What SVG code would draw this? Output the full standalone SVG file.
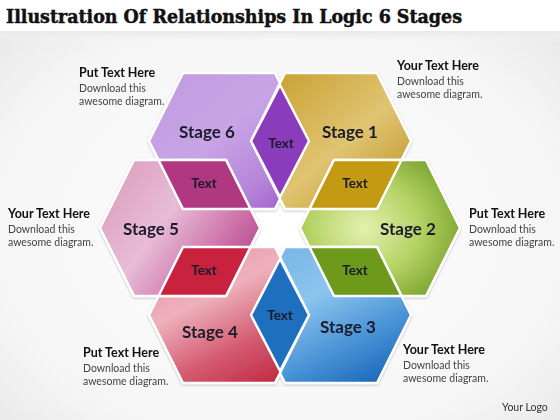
<svg xmlns="http://www.w3.org/2000/svg" width="560" height="420" viewBox="0 0 560 420">
<defs>
<style>
.title{font-family:"DejaVu Serif","Liberation Serif",serif;font-weight:bold;font-size:19px;fill:#111;stroke:#111;stroke-width:0.5}
.stage{font-family:Lato,"Liberation Sans",sans-serif;font-weight:bold;font-size:17px;fill:#1b1b2b;text-anchor:middle}
.ov{font-family:Lato,"Liberation Sans",sans-serif;font-weight:bold;font-size:13.5px;fill:#1b1b2b;text-anchor:middle}
.hd{font-family:Lato,"Liberation Sans",sans-serif;font-weight:bold;font-size:12.5px;fill:#111}
.bd{font-family:Lato,"Liberation Sans",sans-serif;font-size:10.5px;fill:#444}
.hex{stroke:#ffffff;stroke-width:2.5;stroke-linejoin:round}
</style>
<radialGradient id="bg" cx="0.5" cy="0.55" r="0.75">
<stop offset="0" stop-color="#ffffff"/><stop offset="0.7" stop-color="#f5f5f5"/><stop offset="1" stop-color="#e4e4e4"/>
</radialGradient>
<linearGradient id="band" x1="0" y1="0" x2="0" y2="1">
<stop offset="0" stop-color="#e8e8e8"/><stop offset="1" stop-color="#f6f6f6" stop-opacity="0"/>
</linearGradient>
<linearGradient id="g6" x1="0" y1="0" x2="1" y2="1">
<stop offset="0" stop-color="#c09ae0"/><stop offset="0.45" stop-color="#c8a4e6"/><stop offset="0.75" stop-color="#b584d8"/><stop offset="1" stop-color="#9652c4"/>
</linearGradient>
<linearGradient id="g1" x1="0" y1="0" x2="1" y2="1">
<stop offset="0" stop-color="#c69c28"/><stop offset="0.55" stop-color="#e0c472"/><stop offset="1" stop-color="#b88f18"/>
</linearGradient>
<radialGradient id="g2" cx="0.4" cy="0.5" r="0.7">
<stop offset="0" stop-color="#e4f0b0"/><stop offset="0.5" stop-color="#b4d264"/><stop offset="1" stop-color="#6e9a22"/>
</radialGradient>
<linearGradient id="g3" x1="0.2" y1="0" x2="0.8" y2="1">
<stop offset="0" stop-color="#7ab6e6"/><stop offset="0.35" stop-color="#8cc4ee"/><stop offset="0.7" stop-color="#4a94d6"/><stop offset="1" stop-color="#1a68ba"/>
</linearGradient>
<linearGradient id="g4" x1="0.2" y1="0" x2="0.8" y2="1">
<stop offset="0" stop-color="#e898a8"/><stop offset="0.35" stop-color="#eeb0bc"/><stop offset="0.7" stop-color="#d45a70"/><stop offset="1" stop-color="#c02a42"/>
</linearGradient>
<linearGradient id="g5" x1="0" y1="0.2" x2="1" y2="0.8">
<stop offset="0" stop-color="#dc9ec0"/><stop offset="0.4" stop-color="#e8bcd6"/><stop offset="0.75" stop-color="#cc70a8"/><stop offset="1" stop-color="#b04088"/>
</linearGradient>
<polygon id="hx" points="-80,0 -46,-68 46,-68 80,0 46,68 -46,68"/>
<filter id="sh" x="-10%" y="-10%" width="120%" height="120%">
<feDropShadow dx="0" dy="1" stdDeviation="1.2" flood-color="#000" flood-opacity="0.25"/>
</filter>
</defs>
<rect width="560" height="420" fill="url(#bg)"/>
<rect width="560" height="31" fill="#ffffff"/>
<rect y="31" width="560" height="12" fill="url(#band)"/>
<text class="title" x="6" y="23" textLength="456" lengthAdjust="spacingAndGlyphs">Illustration Of Relationships In Logic 6 Stages</text>

<g filter="url(#sh)">
<g id="stage6"><use href="#hx" transform="translate(229,141)" fill="url(#g6)" class="hex"/></g>
<g id="stage1"><use href="#hx" transform="translate(331,141)" fill="url(#g1)" class="hex"/></g>
<g id="stage2"><use href="#hx" transform="translate(380,228)" fill="url(#g2)" class="hex"/></g>
<g id="stage3"><use href="#hx" transform="translate(331,315)" fill="url(#g3)" class="hex"/></g>
<g id="stage4"><use href="#hx" transform="translate(229,315)" fill="url(#g4)" class="hex"/></g>
<g id="stage5"><use href="#hx" transform="translate(180,228)" fill="url(#g5)" class="hex"/></g>
</g>

<g id="overlaps">
<g id="ov61"><polygon class="hex" fill="#8a3cbc" points="251,141 280,85 309,141 280,197"/></g>
<g id="ov65"><polygon class="hex" fill="#b03880" points="158.5,160 226,160 250.5,209 183,209"/></g>
<g id="ov12"><polygon class="hex" fill="#c49a12" points="401.5,160 334,160 309.5,209 377,209"/></g>
<g id="ov54"><polygon class="hex" fill="#c8223e" points="183,247 250.5,247 226,296 158.5,296"/></g>
<g id="ov23"><polygon class="hex" fill="#6e9a1c" points="377,247 309.5,247 334,296 401.5,296"/></g>
<g id="ov43"><polygon class="hex" fill="#1f6fbf" points="251,315 280,259 309,315 280,371"/></g>
</g>

<g id="labels">
<text class="stage" x="207" y="138">Stage 6</text>
<text class="stage" x="350" y="138">Stage 1</text>
<text class="stage" x="408" y="235">Stage 2</text>
<text class="stage" x="348" y="333">Stage 3</text>
<text class="stage" x="210" y="338">Stage 4</text>
<text class="stage" x="151" y="235">Stage 5</text>
<text class="ov" x="281" y="148">Text</text>
<text class="ov" x="204" y="188">Text</text>
<text class="ov" x="355" y="188">Text</text>
<text class="ov" x="204" y="275">Text</text>
<text class="ov" x="355" y="275">Text</text>
<text class="ov" x="280" y="320">Text</text>
</g>

<g id="note-tl"><text class="hd" x="79" y="77">Put Text Here</text><text class="bd" x="79" y="92">Download this</text><text class="bd" x="79" y="105">awesome diagram.</text></g>
<g id="note-tr"><text class="hd" x="397" y="70">Your Text Here</text><text class="bd" x="397" y="85">Download this</text><text class="bd" x="397" y="98">awesome diagram.</text></g>
<g id="note-l"><text class="hd" x="8" y="218">Your Text Here</text><text class="bd" x="8" y="233">Download this</text><text class="bd" x="8" y="246">awesome diagram.</text></g>
<g id="note-r"><text class="hd" x="469" y="218">Put Text Here</text><text class="bd" x="469" y="233">Download this</text><text class="bd" x="469" y="246">awesome diagram.</text></g>
<g id="note-bl"><text class="hd" x="83" y="357">Put Text Here</text><text class="bd" x="83" y="372">Download this</text><text class="bd" x="83" y="385">awesome diagram.</text></g>
<g id="note-br"><text class="hd" x="403" y="354">Your Text Here</text><text class="bd" x="403" y="369">Download this</text><text class="bd" x="403" y="382">awesome diagram.</text></g>
<text class="bd" x="502" y="411" style="fill:#333">Your Logo</text>
</svg>
